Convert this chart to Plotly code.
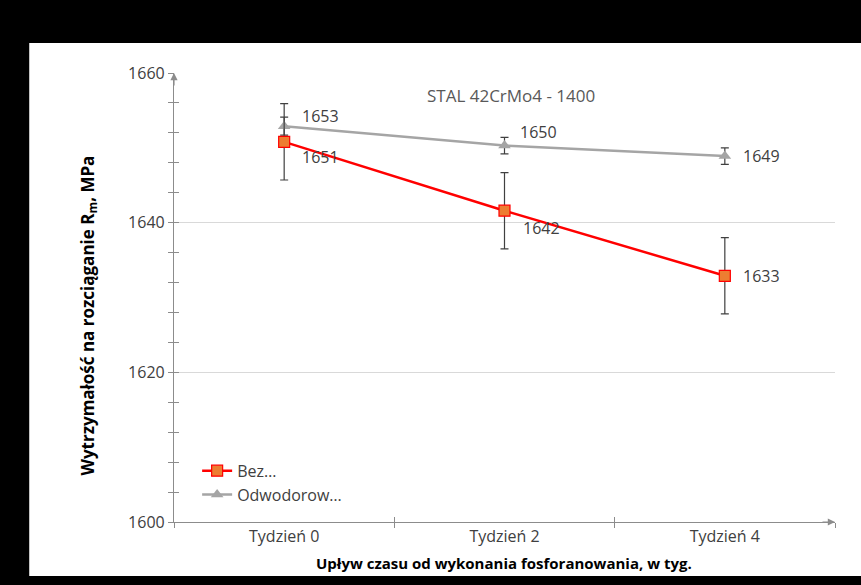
import plotly.graph_objects as go

categories = ["Tydzień 0", "Tydzień 2", "Tydzień 4"]
bez_values = [1650.8, 1641.6, 1632.9]
bez_errors = [5.1, 5.1, 5.1]
odw_values = [1652.9, 1650.3, 1648.9]
odw_errors = [1.2, 1.1, 1.1]
y_ticks = [1600, 1620, 1640, 1660]
series_names = ["Bez…", "Odwodorow…"]

FONT = "Open Sans"
TXT = "#404040"
AX = "#8C8C8C"

fig = go.Figure()

fig.add_trace(go.Scatter(
    x=categories, y=odw_values, name=series_names[1],
    mode="lines+markers",
    line=dict(color="#A5A5A5", width=2.5),
    marker=dict(symbol="triangle-up", size=11, color="#A5A5A5"),
    error_y=dict(type="data", array=odw_errors, color="#404040", thickness=1.2, width=4),
    cliponaxis=False,
))
fig.add_trace(go.Scatter(
    x=categories, y=bez_values, name=series_names[0],
    mode="lines+markers",
    line=dict(color="#FF0000", width=2.5),
    marker=dict(symbol="square", size=11, color="#ED7D31", line=dict(color="#FF0000", width=1.2)),
    error_y=dict(type="data", array=bez_errors, color="#404040", thickness=1.2, width=4),
    cliponaxis=False,
))
# helper trace so the overlay axes (inner half of crossing ticks) are drawn
fig.add_trace(go.Scatter(x=categories, y=[None] * len(categories), xaxis="x2", yaxis="y2",
                         showlegend=False, hoverinfo="skip", mode="lines"))

# data labels
odw_shift = [(16, 10), (13, 14), (16, 0)]
bez_shift = [(16, -15), (16, -17), (16, 0)]
labels = []
for vals, shifts in ((odw_values, odw_shift), (bez_values, bez_shift)):
    for c, v, (dx, dy) in zip(categories, vals, shifts):
        labels.append(dict(x=c, y=v, xref="x", yref="y", text=f"{v:.0f}", showarrow=False,
                           xanchor="left", yanchor="middle", xshift=dx, yshift=dy,
                           font=dict(family=FONT, size=16, color=TXT)))

black_frame = [
    dict(type="rect", xref="paper", yref="paper", x0=-0.3, x1=1.1, y0=1.067, y1=1.2,
         fillcolor="black", line=dict(width=0), layer="below"),
    dict(type="rect", xref="paper", yref="paper", x0=-0.3, x1=-0.219, y0=-0.2, y1=1.2,
         fillcolor="black", line=dict(width=0), layer="below"),
    dict(type="rect", xref="paper", yref="paper", x0=-0.3, x1=1.1, y0=-0.2, y1=-0.12,
         fillcolor="black", line=dict(width=0), layer="below"),
]

fig.update_layout(
    width=861, height=585,
    margin=dict(l=174, r=26, t=73, b=63),
    paper_bgcolor="white",
    plot_bgcolor="white",
    font=dict(family=FONT, color=TXT, size=16),
    showlegend=True,
    legend=dict(x=0.035, y=0.152, xanchor="left", yanchor="top",
                bgcolor="rgba(0,0,0,0)", traceorder="reversed",
                font=dict(family=FONT, size=16, color=TXT), tracegroupgap=0),
    xaxis=dict(type="category", range=[-0.5, 2.5], showline=True, linecolor=AX, linewidth=1.2,
               ticks="outside", ticklen=5, tickcolor=AX, tickson="boundaries",
               showgrid=False, tickfont=dict(family=FONT, size=16, color=TXT), zeroline=False),
    yaxis=dict(range=[1600, 1660], tickvals=y_ticks, showline=True, linecolor=AX, linewidth=1.2,
               ticks="outside", ticklen=5, tickcolor=AX, gridcolor="#D9D9D9", gridwidth=1,
               minor=dict(dtick=4, tick0=1600, ticks="outside", ticklen=5, tickcolor=AX, showgrid=False),
               tickfont=dict(family=FONT, size=16, color=TXT), zeroline=False),
    xaxis2=dict(type="category", range=[-0.5, 2.5], overlaying="x",
                ticks="inside", ticklen=5, tickcolor=AX, tickson="boundaries",
                showticklabels=False, showgrid=False, showline=False, zeroline=False, side="bottom"),
    yaxis2=dict(range=[1600, 1660], overlaying="y", tickvals=y_ticks, ticks="inside", ticklen=5,
                tickcolor=AX, showticklabels=False, showgrid=False, showline=False, zeroline=False,
                minor=dict(dtick=4, tick0=1600, ticks="inside", ticklen=5, tickcolor=AX), side="left"),
    shapes=black_frame,
    annotations=labels + [
        dict(text="STAL 42CrMo4 - 1400", xref="paper", yref="paper", x=0.51, y=0.951,
             xanchor="center", yanchor="middle",
             showarrow=False, font=dict(family=FONT, size=17, color="#595959")),
        dict(text="<b>Wytrzymałość na rozciąganie R<sub>m</sub>, MPa</b>", xref="paper", yref="paper",
             x=-0.13, y=0.46, xanchor="center", yanchor="middle", textangle=-90, showarrow=False,
             font=dict(family=FONT, size=17, color="black")),
        dict(text="<b>Upływ czasu od wykonania fosforanowania, w tyg.</b>", xref="paper", yref="paper",
             x=0.499, y=-0.091, xanchor="center", yanchor="middle", showarrow=False,
             font=dict(family=FONT, size=15, color="black")),
        dict(x=1, y=0, xref="paper", yref="paper", ax=-14, ay=0, showarrow=True, arrowhead=2,
             arrowsize=1.2, arrowwidth=1.2, arrowcolor=AX, text=""),
        dict(x=0, y=1, xref="paper", yref="paper", ax=0, ay=14, showarrow=True, arrowhead=2,
             arrowsize=1.2, arrowwidth=1.2, arrowcolor=AX, text=""),
    ],
)

fig.write_html("out.html")
